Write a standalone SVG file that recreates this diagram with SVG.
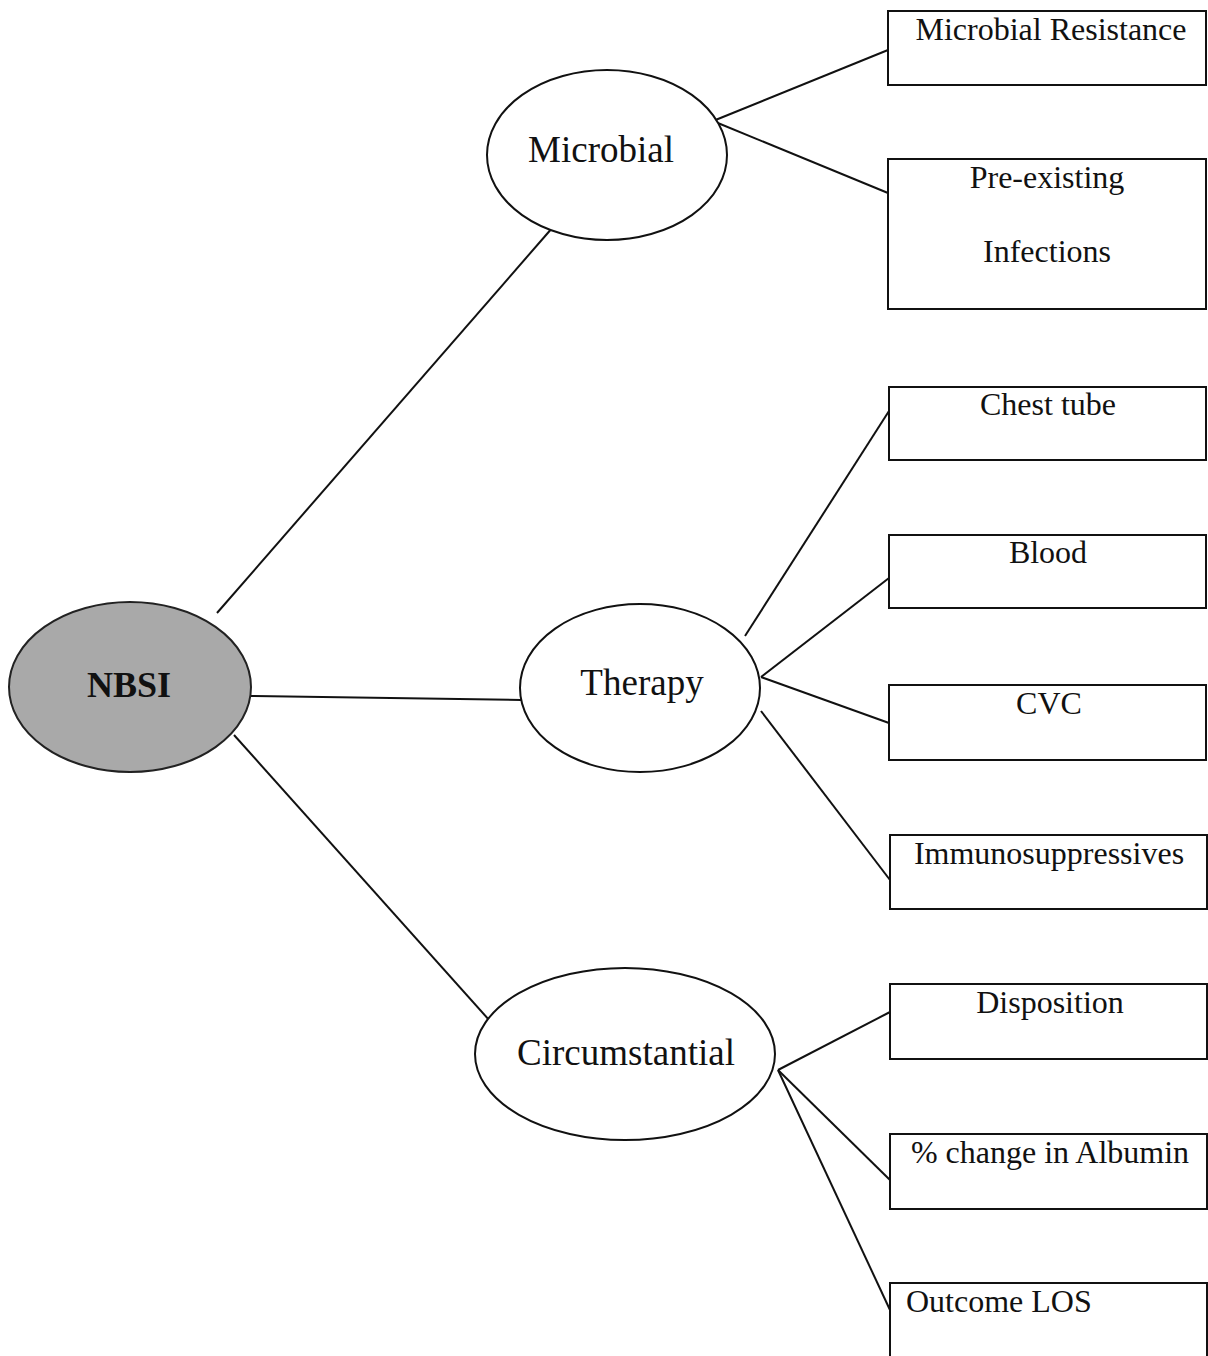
<svg xmlns="http://www.w3.org/2000/svg" width="1208" height="1356" viewBox="0 0 1208 1356">
<style>
.box{fill:#fff;stroke:#111;stroke-width:2}
.ell{fill:#fff;stroke:#111;stroke-width:2}
.root{fill:#a9a9a9;stroke:#222;stroke-width:2}
.conn line{stroke:#111;stroke-width:2}
.bt{font-family:"Liberation Serif","Times New Roman",serif;font-size:32px;fill:#111;text-anchor:middle}
.et{font-family:"Liberation Serif","Times New Roman",serif;font-size:37px;fill:#111;text-anchor:middle}
.rt{font-family:"Liberation Serif","Times New Roman",serif;font-size:36px;font-weight:bold;fill:#111;text-anchor:middle}
</style>
<rect width="1208" height="1356" fill="#fff"/>
<g id="connectors" class="conn">
<line x1="217" y1="613" x2="553" y2="227"/>
<line x1="250" y1="696" x2="521" y2="700"/>
<line x1="234" y1="735" x2="490" y2="1021"/>
<line x1="713" y1="121" x2="888" y2="50"/>
<line x1="713" y1="121" x2="888" y2="193"/>
<line x1="745" y1="636" x2="889" y2="411"/>
<line x1="761" y1="677" x2="889" y2="578"/>
<line x1="761" y1="677" x2="889" y2="723"/>
<line x1="761" y1="711" x2="890" y2="880"/>
<line x1="778" y1="1070" x2="890" y2="1012"/>
<line x1="778" y1="1070" x2="890" y2="1180"/>
<line x1="778" y1="1070" x2="890" y2="1310"/>
</g>
<g id="nbsi"><ellipse class="root" cx="130" cy="687" rx="121" ry="85"/><text class="rt" x="129" y="697">NBSI</text></g>
<g id="microbial"><ellipse class="ell" cx="607" cy="155" rx="120" ry="85"/><text class="et" x="601" y="162">Microbial</text></g>
<g id="therapy"><ellipse class="ell" cx="640" cy="688" rx="120" ry="84"/><text class="et" x="642" y="695">Therapy</text></g>
<g id="circumstantial"><ellipse class="ell" cx="625" cy="1054" rx="150" ry="86"/><text class="et" x="626" y="1065">Circumstantial</text></g>
<g id="microbial-resistance"><rect class="box" x="888" y="11" width="318" height="74"/><text class="bt" x="1051" y="40">Microbial Resistance</text></g>
<g id="pre-existing"><rect class="box" x="888" y="159" width="318" height="150"/><text class="bt" x="1047" y="188">Pre-existing</text><text class="bt" x="1047" y="262">Infections</text></g>
<g id="chest-tube"><rect class="box" x="889" y="387" width="317" height="73"/><text class="bt" x="1048" y="415">Chest tube</text></g>
<g id="blood"><rect class="box" x="889" y="535" width="317" height="73"/><text class="bt" x="1048" y="563">Blood</text></g>
<g id="cvc"><rect class="box" x="889" y="685" width="317" height="75"/><text class="bt" x="1049" y="714">CVC</text></g>
<g id="immunosuppressives"><rect class="box" x="890" y="835" width="317" height="74"/><text class="bt" x="1049" y="864">Immunosuppressives</text></g>
<g id="disposition"><rect class="box" x="890" y="984" width="317" height="75"/><text class="bt" x="1050" y="1013">Disposition</text></g>
<g id="albumin"><rect class="box" x="890" y="1134" width="317" height="75"/><text class="bt" x="1050" y="1163">% change in Albumin</text></g>
<g id="outcome-los"><rect class="box" x="890" y="1283" width="317" height="90"/><text class="bt" x="906" y="1312" style="text-anchor:start">Outcome LOS</text></g>
</svg>
